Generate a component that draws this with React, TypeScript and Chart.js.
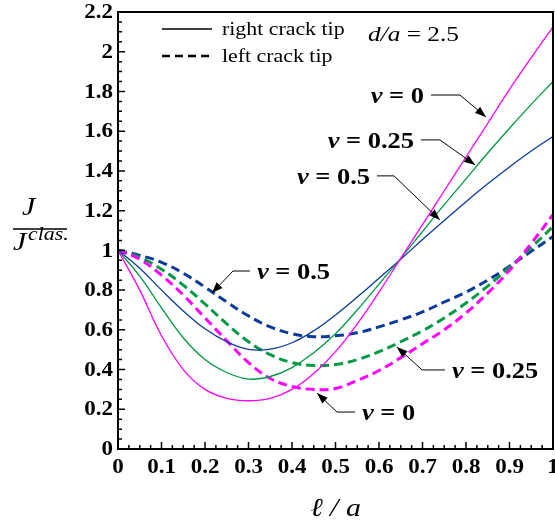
import React, { useEffect, useRef } from 'react';
import { Chart, registerables } from 'chart.js';

Chart.register(...registerables);

const xValues = [0, 0.05, 0.1, 0.15, 0.2, 0.25, 0.3, 0.35, 0.4, 0.45, 0.5, 0.55, 0.6, 0.65, 0.7, 0.75, 0.8, 0.85, 0.9, 0.95, 1.0];

// right crack tip (solid)
const rightNu0 = [1.0, 0.8, 0.57, 0.4, 0.3, 0.255, 0.243, 0.255, 0.3, 0.38, 0.49, 0.63, 0.79, 0.96, 1.13, 1.3, 1.47, 1.64, 1.81, 1.97, 2.125];
const rightNu025 = [1.0, 0.87, 0.71, 0.56, 0.45, 0.385, 0.352, 0.365, 0.41, 0.485, 0.58, 0.7, 0.83, 0.96, 1.095, 1.23, 1.36, 1.49, 1.615, 1.735, 1.85];
const rightNu05 = [1.0, 0.91, 0.8, 0.695, 0.605, 0.54, 0.502, 0.503, 0.535, 0.595, 0.675, 0.765, 0.86, 0.955, 1.055, 1.15, 1.245, 1.335, 1.42, 1.5, 1.573];

// left crack tip (dashed)
const leftNu0 = [1.0, 0.955, 0.875, 0.775, 0.66, 0.545, 0.435, 0.355, 0.315, 0.3, 0.305, 0.345, 0.395, 0.46, 0.53, 0.6, 0.685, 0.785, 0.9, 1.035, 1.18];
const leftNu025 = [1.0, 0.965, 0.905, 0.825, 0.73, 0.63, 0.54, 0.475, 0.435, 0.42, 0.425, 0.45, 0.49, 0.54, 0.595, 0.66, 0.735, 0.82, 0.915, 1.015, 1.12];
const leftNu05 = [1.0, 0.975, 0.94, 0.885, 0.815, 0.74, 0.67, 0.615, 0.58, 0.565, 0.57, 0.585, 0.615, 0.65, 0.69, 0.74, 0.79, 0.85, 0.92, 0.995, 1.07];

const xTickLabels = ['0', '0.1', '0.2', '0.3', '0.4', '0.5', '0.6', '0.7', '0.8', '0.9', '1'];
const yTickLabels = ['0', '0.2', '0.4', '0.6', '0.8', '1', '1.2', '1.4', '1.6', '1.8', '2', '2.2'];

const annotations = [
  { label: '0', start: [0.7195, 1.782], elbow: [0.786, 1.782], tip: [0.846, 1.672], side: 'left' },
  { label: '0.25', start: [0.6966, 1.556], elbow: [0.74, 1.556], tip: [0.821, 1.43], side: 'left' },
  { label: '0.5', start: [0.5954, 1.375], elbow: [0.6345, 1.375], tip: [0.74, 1.153], side: 'left' },
  { label: '0.5', start: [0.3034, 0.896], elbow: [0.2644, 0.896], tip: [0.216, 0.785], side: 'right' },
  { label: '0.25', start: [0.7517, 0.398], elbow: [0.699, 0.398], tip: [0.641, 0.514], side: 'right' },
  { label: '0', start: [0.5448, 0.186], elbow: [0.5034, 0.186], tip: [0.4575, 0.282], side: 'right' },
];

const MAGENTA = '#ff00ff';
const GREEN = '#009a44';
const BLUE = '#0a3a9a';
const SERIF = '"Liberation Serif", "Times New Roman", serif';
const STRETCH = 1.15;

type Part = { text: string; font: string };

function drawParts(
  ctx: CanvasRenderingContext2D,
  parts: Part[],
  x: number,
  y: number,
  align: 'left' | 'right' | 'center',
  baseline: CanvasTextBaseline = 'alphabetic'
) {
  const widths = parts.map((p) => {
    ctx.font = p.font;
    return ctx.measureText(p.text).width * STRETCH;
  });
  const total = widths.reduce((s, w) => s + w, 0);
  let cx = align === 'right' ? x - total : align === 'center' ? x - total / 2 : x;
  ctx.textAlign = 'left';
  ctx.textBaseline = baseline;
  parts.forEach((p, i) => {
    ctx.save();
    ctx.font = p.font;
    ctx.translate(cx, y);
    ctx.scale(STRETCH, 1);
    ctx.fillText(p.text, 0, 0);
    ctx.restore();
    cx += widths[i];
  });
}

const overlayPlugin = {
  id: 'overlay',
  afterDraw(chart: any) {
    const { ctx, chartArea: a, scales } = chart;
    const xs = scales.x;
    const ys = scales.y;
    const px = (v: number) => xs.getPixelForValue(v);
    const py = (v: number) => ys.getPixelForValue(v);
    ctx.save();
    ctx.strokeStyle = '#000';
    ctx.fillStyle = '#000';

    // inward ticks
    ctx.lineWidth = 1.5;
    ctx.beginPath();
    for (let i = 0; i <= 40; i++) {
      const x = px(i * 0.025);
      const len = i % 4 === 0 ? 7 : 4;
      ctx.moveTo(x, a.bottom);
      ctx.lineTo(x, a.bottom - len);
    }
    for (let i = 0; i <= 44; i++) {
      const y = py(i * 0.05);
      const len = i % 4 === 0 ? 7 : 4;
      ctx.moveTo(a.left, y);
      ctx.lineTo(a.left + len, y);
    }
    ctx.stroke();

    // frame
    ctx.lineWidth = 2;
    ctx.strokeRect(a.left, a.top, a.right - a.left, a.bottom - a.top);

    // tick labels
    const tickFont = `bold 20px ${SERIF}`;
    xTickLabels.forEach((t) => {
      drawParts(ctx, [{ text: t, font: tickFont }], px(parseFloat(t)), a.bottom + 19, 'center', 'middle');
    });
    yTickLabels.forEach((t) => {
      drawParts(ctx, [{ text: t, font: tickFont }], a.left - 5, py(parseFloat(t)) + 1, 'right', 'middle');
    });

    // legend
    ctx.lineWidth = 1.3;
    ctx.beginPath();
    ctx.moveTo(162, 29);
    ctx.lineTo(212, 29);
    ctx.stroke();
    ctx.lineWidth = 2.5;
    ctx.setLineDash([8, 5]);
    ctx.beginPath();
    ctx.moveTo(162, 56);
    ctx.lineTo(212, 56);
    ctx.stroke();
    ctx.setLineDash([]);
    drawParts(ctx, [{ text: 'right crack tip', font: `19px ${SERIF}` }], 222, 35, 'left');
    drawParts(ctx, [{ text: 'left crack tip', font: `19px ${SERIF}` }], 222, 62, 'left');

    // d/a = 2.5
    drawParts(
      ctx,
      [
        { text: 'd/a', font: `italic 22px ${SERIF}` },
        { text: ' = 2.5', font: `22px ${SERIF}` },
      ],
      368,
      41,
      'left'
    );

    // annotations
    ctx.lineWidth = 1;
    annotations.forEach((an) => {
      const sx = px(an.start[0]);
      const sy = py(an.start[1]);
      const ex = px(an.elbow[0]);
      const ey = py(an.elbow[1]);
      const tx = px(an.tip[0]);
      const ty = py(an.tip[1]);
      ctx.beginPath();
      ctx.moveTo(sx, sy);
      ctx.lineTo(ex, ey);
      ctx.lineTo(tx, ty);
      ctx.stroke();
      const ang = Math.atan2(ty - ey, tx - ex);
      const L = 11;
      const W = 4;
      const bx = tx - L * Math.cos(ang);
      const by = ty - L * Math.sin(ang);
      ctx.beginPath();
      ctx.moveTo(tx, ty);
      ctx.lineTo(bx + W * Math.sin(ang), by - W * Math.cos(ang));
      ctx.lineTo(bx - W * Math.sin(ang), by + W * Math.cos(ang));
      ctx.closePath();
      ctx.fill();
      const parts = [
        { text: 'ν', font: `italic bold 23px ${SERIF}` },
        { text: ' = ' + an.label, font: `bold 23px ${SERIF}` },
      ];
      if (an.side === 'left') drawParts(ctx, parts, sx - 7, sy + 8, 'right');
      else drawParts(ctx, parts, sx + 7, sy + 8, 'left');
    });

    // y axis title
    drawParts(ctx, [{ text: 'J', font: `italic 26px ${SERIF}` }], 22, 215, 'left');
    ctx.lineWidth = 1.5;
    ctx.beginPath();
    ctx.moveTo(13, 229);
    ctx.lineTo(67, 229);
    ctx.stroke();
    drawParts(ctx, [{ text: 'J', font: `italic 26px ${SERIF}` }], 13, 250, 'left');
    drawParts(ctx, [{ text: 'clas.', font: `italic 19px ${SERIF}` }], 28, 240, 'left');

    // x axis title
    drawParts(ctx, [{ text: 'ℓ / a', font: `italic 26px ${SERIF}` }], (a.left + a.right) / 2, 516, 'center');

    ctx.restore();
  },
};

function makeData(values: number[]) {
  return xValues.map((x, i) => ({ x, y: values[i] }));
}

export default function App() {
  const canvasRef = useRef<HTMLCanvasElement | null>(null);

  useEffect(() => {
    const canvas = canvasRef.current;
    if (!canvas) return;
    const solid = { borderWidth: 1.3, borderDash: [] as number[] };
    const dashed = { borderWidth: 3, borderDash: [9, 5] };
    const chart = new Chart(canvas, {
      type: 'line',
      data: {
        datasets: [
          { label: 'right ν=0', data: makeData(rightNu0), borderColor: MAGENTA, ...solid },
          { label: 'right ν=0.25', data: makeData(rightNu025), borderColor: GREEN, ...solid },
          { label: 'right ν=0.5', data: makeData(rightNu05), borderColor: BLUE, ...solid },
          { label: 'left ν=0', data: makeData(leftNu0), borderColor: MAGENTA, ...dashed },
          { label: 'left ν=0.25', data: makeData(leftNu025), borderColor: GREEN, ...dashed },
          { label: 'left ν=0.5', data: makeData(leftNu05), borderColor: BLUE, ...dashed },
        ] as any,
      },
      options: {
        responsive: false,
        animation: false,
        devicePixelRatio: 1,
        parsing: false as any,
        elements: {
          point: { radius: 0, hoverRadius: 0 },
          line: { tension: 0.4, fill: false },
        },
        layout: { padding: { top: 12, right: 2, left: 0, bottom: 0 } },
        plugins: {
          legend: { display: false },
          tooltip: { enabled: false },
          title: { display: false },
        },
        scales: {
          x: {
            type: 'linear',
            min: 0,
            max: 1,
            grid: { display: false, drawTicks: false },
            border: { display: false },
            ticks: { display: false, stepSize: 0.1 },
            afterFit: (s: any) => {
              s.height = 74;
              s.paddingLeft = 0;
              s.paddingRight = 0;
            },
          },
          y: {
            type: 'linear',
            min: 0,
            max: 2.2,
            grid: { display: false, drawTicks: false },
            border: { display: false },
            ticks: { display: false, stepSize: 0.2 },
            afterFit: (s: any) => {
              s.width = 118;
              s.paddingTop = 0;
              s.paddingBottom = 0;
            },
          },
        },
      },
      plugins: [overlayPlugin],
    });
    return () => chart.destroy();
  }, []);

  return (
    <div style={{ position: 'absolute', left: 0, top: 0, width: 555, height: 523, background: '#fff' }}>
      <canvas ref={canvasRef} width={555} height={523} style={{ display: 'block' }} />
    </div>
  );
}
